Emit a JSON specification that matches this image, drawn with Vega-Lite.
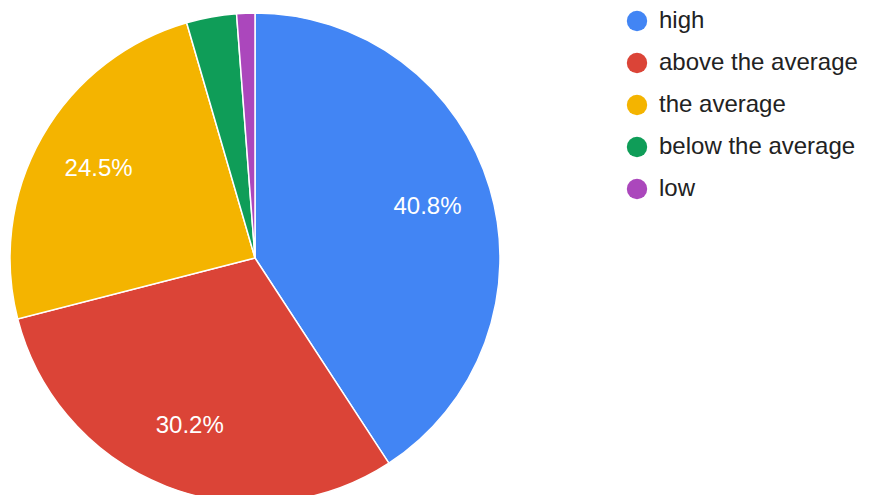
{
  "$schema": "https://vega.github.io/schema/vega-lite/v6.json",
  "width": 510,
  "height": 516,
  "autosize": "none",
  "padding": {"left": 0, "top": 0, "right": 365, "bottom": 0},
  "background": "white",
  "config": {"view": {"stroke": null}},
  "data": {
    "values": [
      {"category": "high", "value": 40.8, "label": "40.8%", "idx": 1},
      {"category": "above the average", "value": 30.2, "label": "30.2%", "idx": 2},
      {"category": "the average", "value": 24.5, "label": "24.5%", "idx": 3},
      {"category": "below the average", "value": 3.3, "label": "", "idx": 4},
      {"category": "low", "value": 1.2, "label": "", "idx": 5}
    ]
  },
  "encoding": {
    "theta": {"field": "value", "type": "quantitative", "stack": true},
    "order": {"field": "idx", "type": "quantitative"}
  },
  "layer": [
    {
      "mark": {"type": "arc", "outerRadius": 245, "stroke": "white", "strokeWidth": 1.5},
      "encoding": {
        "color": {
          "field": "category",
          "type": "nominal",
          "sort": null,
          "scale": {
            "domain": ["high", "above the average", "the average", "below the average", "low"],
            "range": ["#4285F4", "#DB4437", "#F4B400", "#0F9D58", "#AB47BC"]
          },
          "legend": {
            "title": null,
            "orient": "none",
            "legendX": 625,
            "legendY": 9,
            "symbolType": "circle",
            "symbolSize": 415,
            "symbolStrokeWidth": 0,
            "labelFont": "Liberation Sans",
            "labelFontSize": 24,
            "labelColor": "#222222",
            "labelOffset": 10,
            "rowPadding": 18,
            "labelLimit": 300
          }
        }
      }
    },
    {
      "mark": {"type": "text", "radius": 180, "color": "white", "fontSize": 24, "font": "Liberation Sans", "baseline": "middle", "align": "center"},
      "encoding": {
        "text": {"field": "label", "type": "nominal"}
      }
    }
  ]
}
